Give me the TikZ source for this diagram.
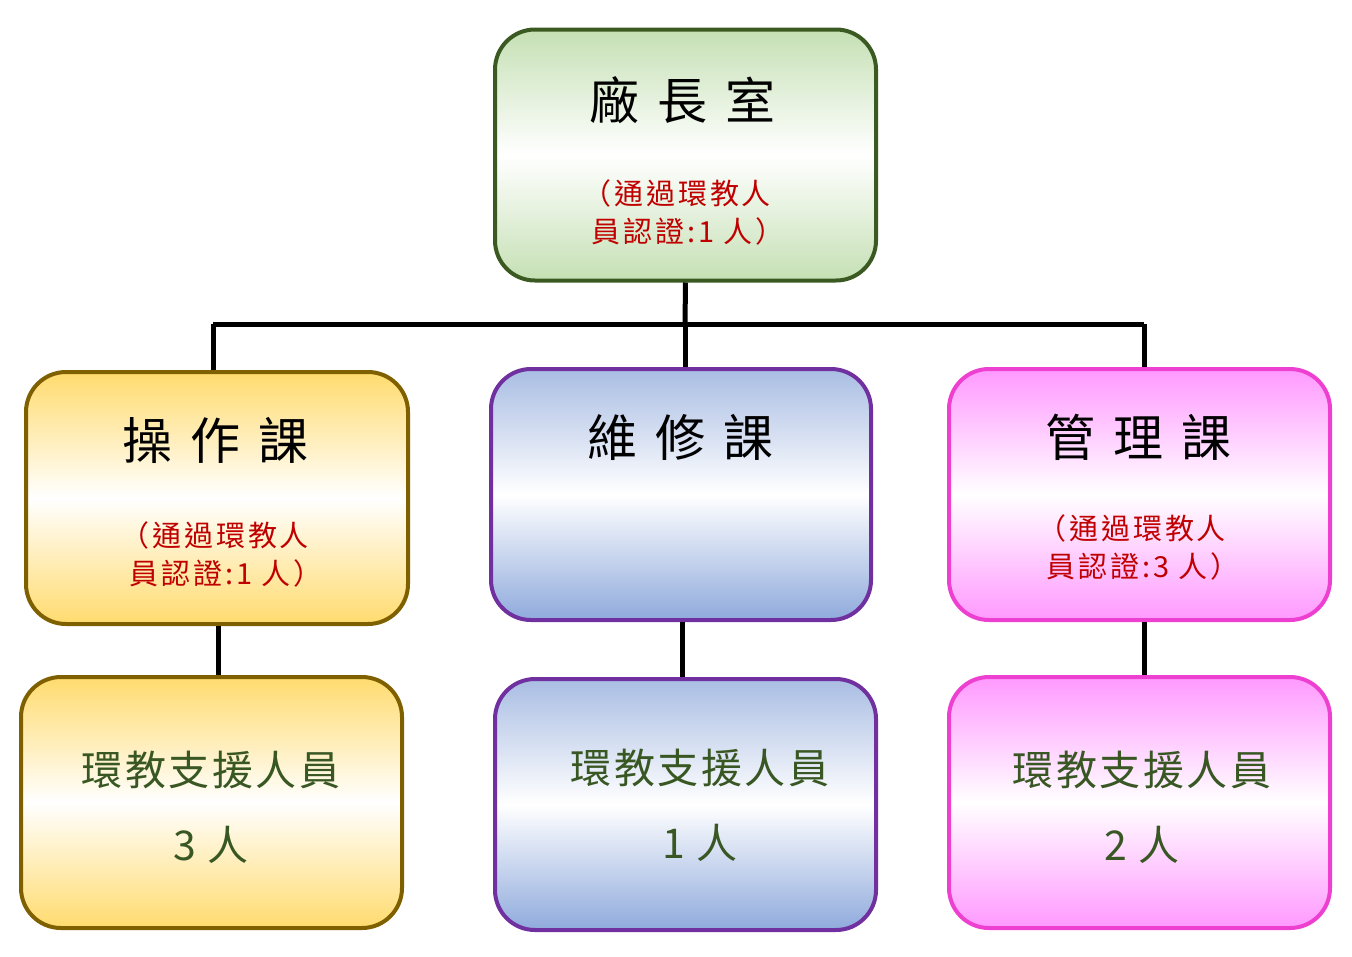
\documentclass[tikz,border=0pt]{standalone}
\usepackage{fontspec}
\newfontfamily\cjk{Noto Sans CJK TC}
\newfontfamily\cjkred[LetterSpace=10]{Noto Sans CJK TC}
\newfontfamily\cjkgreen[LetterSpace=6]{Noto Sans CJK TC}
\definecolor{gfill}{HTML}{C5E0B4}
\definecolor{gdraw}{HTML}{3B5A22}
\definecolor{yfill}{HTML}{FFDB6E}
\definecolor{ydraw}{HTML}{7F6000}
\definecolor{bfill}{HTML}{A9BDE3}
\definecolor{bfillb}{HTML}{8FAADC}
\definecolor{bdraw}{HTML}{7030A0}
\definecolor{pfill}{HTML}{FF99FF}
\definecolor{pdraw}{HTML}{EE40D0}
\definecolor{redtxt}{HTML}{C00000}
\definecolor{grtxt}{HTML}{385723}
\tikzset{
  box/.style={rectangle, rounded corners=40pt, line width=4pt, minimum width=381pt, minimum height=251pt, inner sep=0pt},
  gbox/.style={box, draw=gdraw, top color=gfill, bottom color=gfill, middle color=white},
  ybox/.style={box, draw=ydraw, top color=yfill, bottom color=yfill, middle color=white},
  bbox/.style={box, draw=bdraw, top color=bfill, bottom color=bfillb, middle color=white},
  pbox/.style={box, draw=pdraw, top color=pfill, bottom color=pfill, middle color=white},
  titletxt/.style={font=\cjk\fontsize{50}{60}\selectfont, text=black, inner sep=0pt},
  redlbl/.style={font=\cjkred\fontsize{29}{38}\selectfont, text=redtxt, align=left, inner sep=0pt},
  grlbl/.style={font=\cjkgreen\fontsize{41}{75}\selectfont, text=grtxt, align=center, inner sep=0pt},
  conn/.style={line width=5pt, black}
}
\newcommand{\tsp}{\hspace{18pt}}
\newcommand{\lpar}{\hspace*{-9pt}（}
\begin{document}
\begin{tikzpicture}[x=1pt,y=-1pt]
\useasboundingbox (0,0) rectangle (1352,956);
% boxes
\node[gbox] (top) at (685.5,155) {};
\node[ybox, minimum width=382pt, minimum height=252pt] (b1) at (217,498) {};
\node[bbox, minimum width=380pt] (b2) at (681,494.5) {};
\node[pbox] (b3) at (1139.5,494.5) {};
\node[ybox] (c1) at (211.5,802.5) {};
\node[bbox] (c2) at (685.5,804.5) {};
\node[pbox] (c3) at (1139.5,802.5) {};
% connectors
\coordinate (jm) at (685,324);
\coordinate (jl) at (213,324);
\coordinate (jr) at (1144,324);
\draw[conn] (top.south) -- (jm);
\draw[conn] (jl) -- (jr);
\draw[conn] (jl) -- (jl |- b1.north);
\draw[conn] (jm) -- (jm |- b2.north);
\draw[conn] (jr) -- (jr |- b3.north);
\coordinate (d1) at (218,626);
\coordinate (d2) at (682,622);
\coordinate (d3) at (1144,622);
\draw[conn] (d1) -- (d1 |- c1.north);
\draw[conn] (d2) -- (d2 |- c2.north);
\draw[conn] (d3) -- (d3 |- c3.north);
% texts
\node[titletxt] (t0) at (682,100) {廠\tsp 長\tsp 室};
\node[redlbl] (r0) at (688,212) {\lpar 通過環教人\\員認證:1 人）};
\node[titletxt] (t1) at (215,440) {操\tsp 作\tsp 課};
\node[redlbl] (r1) at (226,554) {\lpar 通過環教人\\員認證:1 人）};
\node[titletxt] (t2) at (680,437) {維\tsp 修\tsp 課};
\node[titletxt] (t3) at (1138,437) {管\tsp 理\tsp 課};
\node[redlbl] (r3) at (1143,547) {\lpar 通過環教人\\員認證:3 人）};
\node[grlbl] (g1) at (211,807) {環教支援人員\\3 人};
\node[grlbl] (g2) at (700,805) {環教支援人員\\1 人};
\node[grlbl] (g3) at (1142,807) {環教支援人員\\2 人};
\end{tikzpicture}
\end{document}
